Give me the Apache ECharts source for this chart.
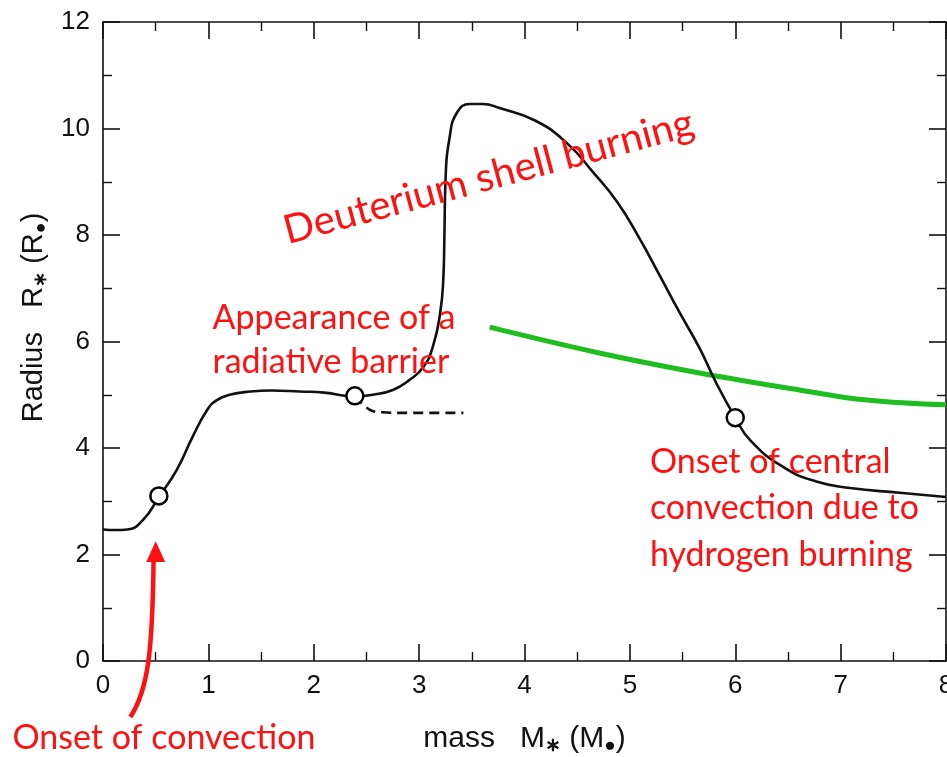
<!DOCTYPE html>
<html>
<head>
<meta charset="utf-8">
<title>Radius vs mass</title>
<script src="https://cdn.jsdelivr.net/npm/echarts@6/dist/echarts.min.js"></script>
<style>
  html, body { margin: 0; padding: 0; background: #fff; }
  #chart { width: 947px; height: 757px; }
</style>
</head>
<body>
<div id="chart"></div>
<script>
// radius of the protostar against its mass
var radiusCurve = [
    [0, 2.47], [0.12, 2.46], [0.23, 2.47], [0.38, 2.65], [0.53, 3.08],
    [0.70, 3.59], [0.85, 4.21], [0.99, 4.72], [1.08, 4.90], [1.2, 5.00],
    [1.4, 5.06], [1.6, 5.08], [1.87, 5.06], [2.1, 5.04], [2.39, 4.97],
    [2.56, 5.00], [2.75, 5.09], [2.91, 5.28], [3.04, 5.52], [3.13, 5.90],
    [3.20, 6.54], [3.23, 7.2], [3.24, 8.0], [3.25, 9.0], [3.29, 9.84],
    [3.36, 10.30], [3.48, 10.46], [3.60, 10.46], [3.77, 10.38], [4.10, 10.15],
    [4.40, 9.73], [4.65, 9.18], [4.88, 8.62], [5.09, 7.94], [5.28, 7.25],
    [5.47, 6.55], [5.66, 5.88], [5.82, 5.22], [6.0, 4.57], [6.14, 4.15],
    [6.45, 3.65], [6.77, 3.37], [7.09, 3.25], [7.56, 3.16], [8.0, 3.08]
];
// branch without the radiative barrier
var dashedBranch = [[2.39, 4.97], [2.53, 4.72], [2.65, 4.67], [2.82, 4.66], [3.42, 4.66]];
// green line
var greenLine = [[3.67, 6.27], [4.72, 5.78], [5.66, 5.41], [6.61, 5.09], [7.25, 4.90], [8.0, 4.81]];
// open circles
var markedPoints = [[0.53, 3.10], [2.39, 4.98], [6.0, 4.57]];

var xTicks = [0, 1, 2, 3, 4, 5, 6, 7, 8];
var yTicks = [0, 2, 4, 6, 8, 10, 12];

var notes = [
    { text: 'Appearance of a\nradiative barrier', at: [1.04, 6.03], lh: 44 },
    { text: 'Onset of central\nconvection due to\nhydrogen burning', at: [5.19, 2.87], lh: 46.5 },
    { text: 'Onset of convection', at: [-0.86, -1.45], lh: 40 }
];

var red = '#ff1111';
var tickFont = 'Liberation Sans';
var noteFont = 'Lato';

var dom = document.getElementById('chart');
var myChart = echarts.init(dom);

function baseAxis(extra) {
    var ax = {
        type: 'value',
        axisLine: { show: true, onZero: false, lineStyle: { color: '#111', width: 1.6 } },
        axisTick: { show: true, inside: true, length: 17, lineStyle: { color: '#111', width: 1.6 } },
        minorTick: { show: true, splitNumber: 2, length: 9, lineStyle: { color: '#111', width: 1.4 } },
        splitLine: { show: false },
        axisLabel: { show: false }
    };
    for (var k in extra) ax[k] = extra[k];
    return ax;
}

function nameRich(size) {
    return {
        a: { fontFamily: tickFont, fontSize: size, color: '#111' },
        s: { fontFamily: tickFont, fontSize: Math.round(size * 0.62), fontWeight: 'bold', color: '#111', verticalAlign: 'bottom', padding: [14, 0, 0, 0] }
    };
}

var option = {
    animation: false,
    backgroundColor: '#fff',
    grid: { left: 103, right: 1, top: 22, bottom: 96, containLabel: false, outerBoundsMode: 'none' },
    xAxis: [
        baseAxis({
            position: 'bottom', min: 0, max: 8, interval: 1,
            axisLabel: {
                show: true, margin: 12, fontFamily: tickFont, fontSize: 26, color: '#111',
                formatter: function (v) { return xTicks.indexOf(v) >= 0 ? String(v) : ''; }
            },
            name: '{a|mass   M}{s|∗}{a| (M}{s|●}{a|)}',
            nameLocation: 'middle', nameGap: 61,
            nameTextStyle: { rich: nameRich(30) }
        }),
        baseAxis({ position: 'top', min: 0, max: 8, interval: 1 })
    ],
    yAxis: [
        baseAxis({
            position: 'left', min: 0, max: 12, interval: 2,
            axisLabel: {
                show: true, margin: 13, fontFamily: tickFont, fontSize: 26, color: '#111',
                formatter: function (v) { return yTicks.indexOf(v) >= 0 ? String(v) : ''; }
            },
            name: '{a|Radius   R}{s|∗}{a| (R}{s|●}{a|)}',
            nameLocation: 'middle', nameGap: 50, nameRotate: 90,
            nameTextStyle: { rich: nameRich(29), padding: [0, 0, 0, 48] }
        }),
        baseAxis({ position: 'right', min: 0, max: 12, interval: 2 })
    ],
    series: [
        {
            type: 'line', data: radiusCurve, smooth: 0.5,
            symbol: 'none', lineStyle: { color: '#111', width: 2.6 }, z: 3
        },
        {
            type: 'line', data: dashedBranch, smooth: 0.4,
            symbol: 'none', lineStyle: { color: '#111', width: 2.6, type: [10, 6] }, z: 3
        },
        {
            type: 'line', data: greenLine, smooth: 0.4,
            symbol: 'none', lineStyle: { color: '#1fbd1f', width: 5, cap: 'butt' }, z: 2
        },
        {
            type: 'scatter', data: markedPoints, symbol: 'circle', symbolSize: 17,
            itemStyle: { color: '#fff', borderColor: '#000', borderWidth: 2.5, opacity: 1 }, z: 5
        }
    ]
};

if (option && typeof option === "object") {
    myChart.setOption(option, true);
}

function px(p) {
    return myChart.convertToPixel({ gridIndex: 0 }, p);
}

function drawNotes() {
    var g = [];
    notes.forEach(function (n) {
        var p = px(n.at);
        g.push({
            type: 'text', x: p[0], y: p[1], z: 10,
            style: {
                text: n.text, fill: red, font: '34px ' + noteFont,
                lineHeight: n.lh, textAlign: 'left', textVerticalAlign: 'middle'
            }
        });
    });
    var d = px([3.66, 9.09]);
    g.push({
        type: 'text', x: d[0], y: d[1], rotation: 15 * Math.PI / 180, z: 10,
        style: {
            text: 'Deuterium shell burning', fill: red, font: '40px ' + noteFont,
            textAlign: 'center', textVerticalAlign: 'middle'
        }
    });
    // curved arrow pointing at the onset of convection
    var a0 = px([0.26, -1.05]), c1 = px([0.43, -0.54]), c2 = px([0.47, 0.21]), a1 = px([0.48, 1.9]);
    g.push({
        type: 'bezierCurve', z: 10,
        shape: { x1: a0[0], y1: a0[1], cpx1: c1[0], cpy1: c1[1], cpx2: c2[0], cpy2: c2[1], x2: a1[0], y2: a1[1] },
        style: { stroke: red, lineWidth: 4.5, fill: null }
    });
    var h0 = px([0.50, 2.25]), h1 = px([0.41, 1.86]), h2 = px([0.59, 1.86]);
    g.push({
        type: 'polygon', z: 10,
        shape: { points: [h0, h1, h2] },
        style: { fill: red }
    });
    myChart.setOption({ graphic: g });
}
drawNotes();

window.onresize = function () {
    myChart.resize();
    drawNotes();
}
</script>
</body>
</html>
